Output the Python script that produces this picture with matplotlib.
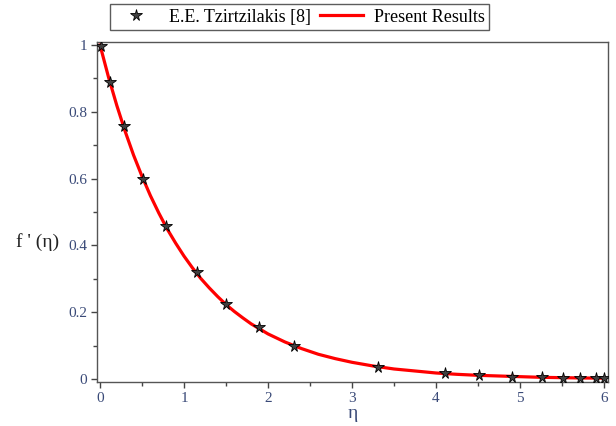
import matplotlib
matplotlib.use("Agg")
import matplotlib.pyplot as plt
from matplotlib.ticker import MultipleLocator

# Reference data (E.E. Tzirtzilakis [8])
eta_ref = [0.01, 0.12, 0.29, 0.51, 0.79, 1.15, 1.50, 1.89, 2.31, 3.31,
           4.11, 4.51, 4.90, 5.26, 5.51, 5.71, 5.90, 6.00]
fp_ref = [0.997, 0.889, 0.757, 0.600, 0.458, 0.320, 0.225, 0.156, 0.100, 0.036,
          0.017, 0.012, 0.007, 0.005, 0.004, 0.003, 0.003, 0.003]

# Present results curve
eta_cur = [0.0, 0.1, 0.2, 0.3, 0.4, 0.5, 0.6, 0.7, 0.8, 0.9, 1.0, 1.1, 1.2, 1.3,
           1.4, 1.5, 1.6, 1.7, 1.8, 1.9, 2.0, 2.2, 2.4, 2.6, 2.8, 3.0, 3.25, 3.5,
           3.75, 4.0, 4.25, 4.5, 4.75, 5.0, 5.25, 5.5, 5.75, 6.0]
fp_cur = [1.0, 0.905, 0.819, 0.741, 0.670, 0.607, 0.549, 0.497, 0.449, 0.407,
          0.368, 0.333, 0.301, 0.273, 0.247, 0.223, 0.202, 0.183, 0.165, 0.150,
          0.135, 0.111, 0.091, 0.074, 0.061, 0.050, 0.039, 0.030, 0.024, 0.018,
          0.014, 0.011, 0.009, 0.007, 0.005, 0.004, 0.003, 0.0025]

label_ref = "E.E. Tzirtzilakis [8]"
label_cur = "Present Results"
xlabel = "η"
ylabel = "f ' (η)"

plt.rcParams['font.family'] = ['Liberation Serif', 'DejaVu Serif']

fig = plt.figure(figsize=(6.16, 4.26), dpi=100)
ax = fig.add_axes([97/616, 1-382/426, (608-97)/616, (382-42)/426])

ln, = ax.plot(eta_cur, fp_cur, color='#ff0000', lw=2.3, label=label_cur, zorder=2)
sc, = ax.plot(eta_ref, fp_ref, ls='none', marker='*', ms=8.5, color='black',
              markerfacecolor='#404040', markeredgecolor='black',
              markeredgewidth=0.6, label=label_ref, zorder=3)

ax.set_xlim(-3/84, 6 + 4/84)
ax.set_ylim(-3/334, 1 + 3/334)
ax.xaxis.set_major_locator(MultipleLocator(1))
ax.xaxis.set_minor_locator(MultipleLocator(0.5))
ax.yaxis.set_minor_locator(MultipleLocator(0.1))
ax.set_yticks([0, 0.2, 0.4, 0.6, 0.8, 1.0])
ax.set_yticklabels(['0', '0.2', '0.4', '0.6', '0.8', '1'])

tick_col = '#3a4a78'
ax.tick_params(which='both', direction='out', colors='#444444', labelcolor=tick_col,
               labelsize=11)
ax.tick_params(which='major', length=4, width=1, pad=3)
ax.tick_params(which='minor', length=3, width=1)
for s in ax.spines.values():
    s.set_color('#555555')
    s.set_linewidth(1.0)

fig.text(59/616, 1 - 242/426, ylabel,
         ha='right', va='center', fontsize=14, color='#222222')
ax.set_xlabel(xlabel, fontsize=14, color=tick_col, labelpad=0)

leg = fig.legend(handles=[sc, ln], labels=[label_ref, label_cur],
                 loc='upper left', bbox_to_anchor=(110/616, 1-4/426), ncol=2,
                 fontsize=13, frameon=True, fancybox=False, edgecolor='#333333',
                 borderpad=0.25, handlelength=2.4, columnspacing=0.5, handletextpad=0.6,
                 borderaxespad=0)
leg.get_frame().set_linewidth(1.0)

fig.savefig("out.png", dpi=100)
